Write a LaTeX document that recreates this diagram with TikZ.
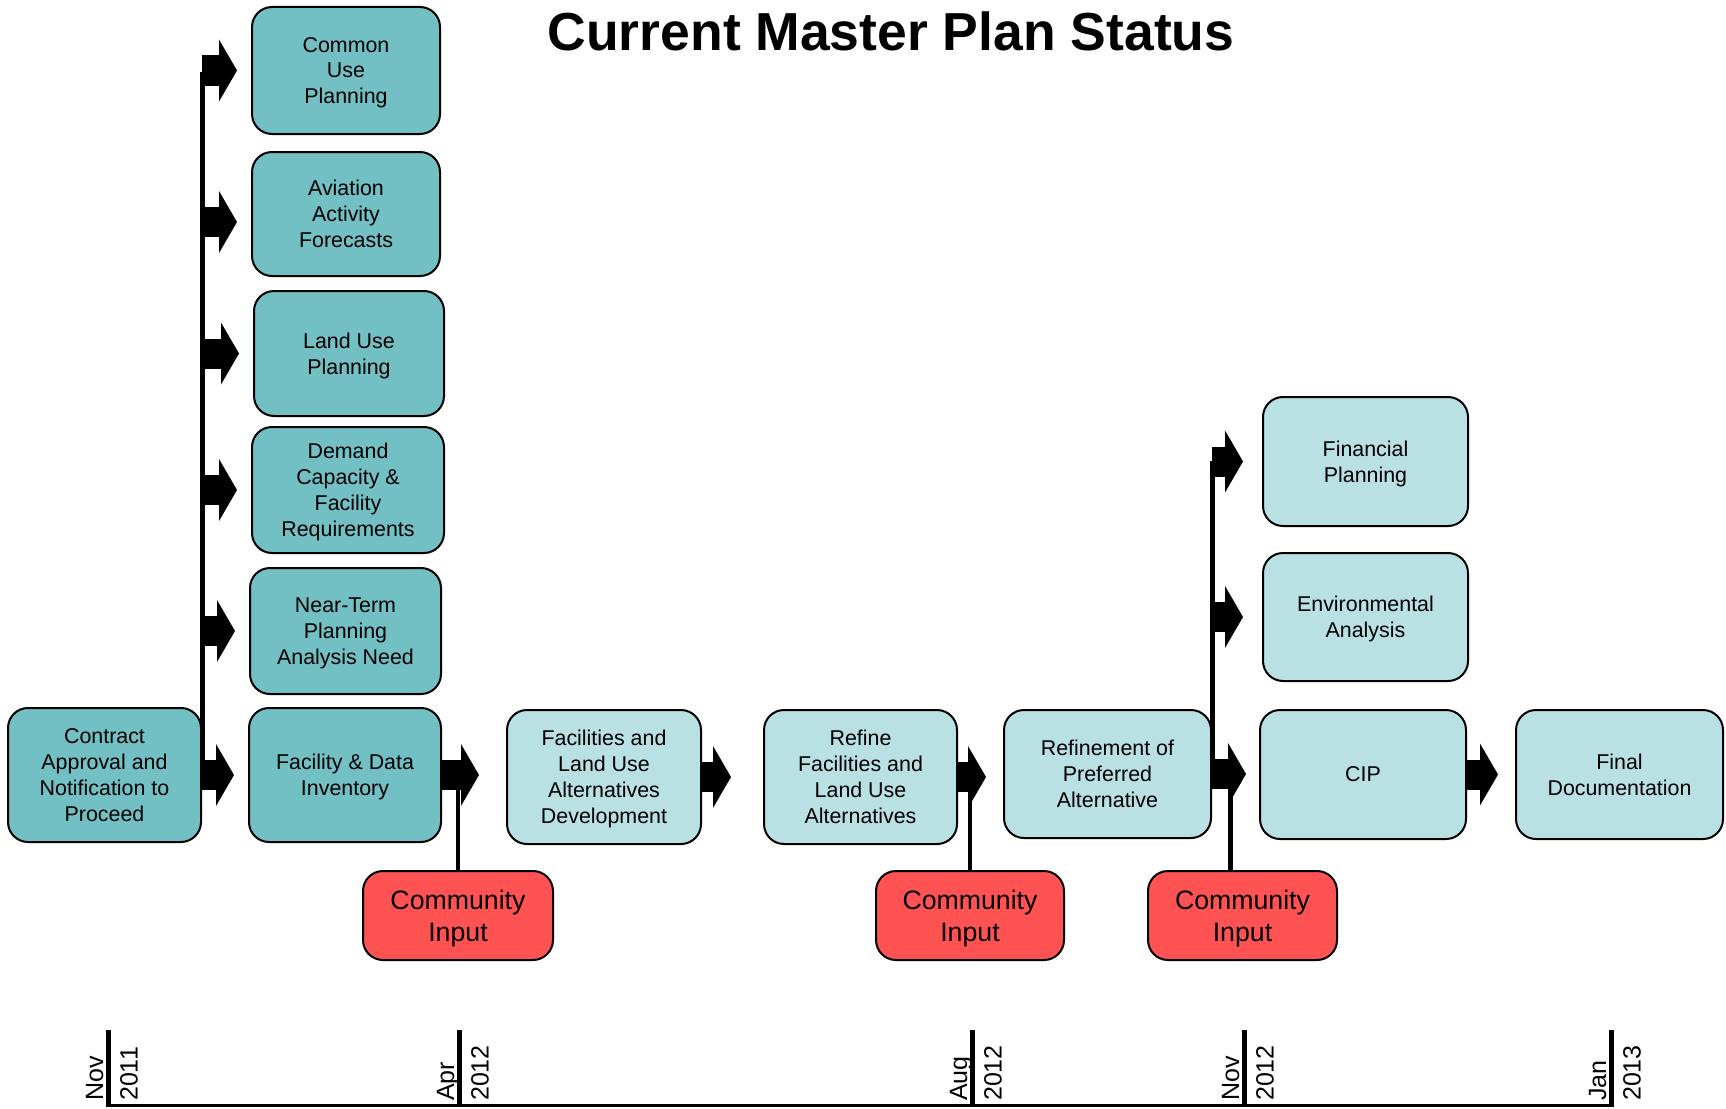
\documentclass[tikz,border=0pt]{standalone}
\usepackage{fontspec}
\setmainfont{Liberation Sans}
\usepackage{xcolor}
\usepackage{tikz}
\usetikzlibrary{arrows.meta}

\definecolor{tealscuro}{RGB}{114,191,196}
\definecolor{tealchiaro}{RGB}{185,224,227}
\definecolor{rosso}{RGB}{255,82,82}

\begin{document}
\begin{tikzpicture}[x=1pt, y=-1pt,
  fase/.style={draw, line width=2pt, rounded corners=20pt, align=center, inner sep=0pt,
    text depth=-3.5pt, font=\fontsize{21.4}{25.9}\selectfont},
  fatta/.style={fase, fill=tealscuro},
  dafare/.style={fase, fill=tealchiaro},
  pubblico/.style={fase, fill=rosso, font=\fontsize{26.7}{32.3}\selectfont},
  freccia/.style={line width=30pt, -{Triangle[length=18pt, width=62pt, line width=0pt]}},
  data/.style={rotate=90, inner sep=0pt, font=\fontsize{25}{30}\selectfont}]

  \useasboundingbox (0,0) rectangle (1726,1108);

  % 1. Titolo
  \node[anchor=base, font=\fontsize{53.5}{60}\selectfont\bfseries] (titolo) at (891,51)
    {Current Master Plan Status};

  % 2. Fasi completate (colonna di sinistra)
  \node[fatta, minimum width=193pt, minimum height=134pt] (cap) at (104.5,775)
    {Contract\\Approval and\\Notification to\\Proceed};
  \node[fatta, minimum width=188pt, minimum height=127pt] (cup) at (346,70.5) {Common\\Use\\Planning};
  \node[fatta, minimum width=188pt, minimum height=124pt] (aaf) at (346,214) {Aviation\\Activity\\Forecasts};
  \node[fatta, minimum width=190pt, minimum height=125pt] (lup) at (349,353.5) {Land Use\\Planning};
  \node[fatta, minimum width=192pt, minimum height=126pt] (dcf) at (348,490)
    {Demand\\Capacity \&\\Facility\\Requirements};
  \node[fatta, minimum width=191pt, minimum height=126pt] (ntp) at (345.5,631)
    {Near-Term\\Planning\\Analysis Need};
  \node[fatta, minimum width=192pt, minimum height=134pt] (fdi) at (345,775) {Facility \& Data\\Inventory};

  % 3. Fasi da completare
  \node[dafare, minimum width=194pt, minimum height=134pt] (flu) at (604,777)
    {Facilities and\\Land Use\\Alternatives\\Development};
  \node[dafare, minimum width=193pt, minimum height=134pt] (rfl) at (860.5,777)
    {Refine\\Facilities and\\Land Use\\Alternatives};
  \node[dafare, minimum width=207pt, minimum height=128pt] (rpa) at (1107.5,774)
    {Refinement of\\Preferred\\Alternative};
  \node[dafare, minimum width=206pt, minimum height=129pt] (cip) at (1363,774.5) {CIP};
  \node[dafare, minimum width=207pt, minimum height=129pt] (fdo) at (1619.5,774.5) {Final\\Documentation};
  \node[dafare, minimum width=205pt, minimum height=129pt] (fin) at (1365.5,461.5) {Financial\\Planning};
  \node[dafare, minimum width=205pt, minimum height=128pt] (env) at (1365.5,617) {Environmental\\Analysis};

  % 4. Incontri con il pubblico
  \node[pubblico, minimum width=190pt, minimum height=89pt] (ci1) at (458,915.5) {Community\\Input};
  \node[pubblico, minimum width=188pt, minimum height=89pt] (ci2) at (970,915.5) {Community\\Input};
  \node[pubblico, minimum width=189pt, minimum height=89pt] (ci3) at (1242.5,915.5) {Community\\Input};

  % 5. Dorsali e collegamenti verticali
  \coordinate (lsp) at (202,72);
  \coordinate (rsp) at (1212,461);
  \coordinate (aafin) at ([yshift=-8pt]aaf.west);
  \draw[line width=5pt] (lsp) -- (lsp |- fdi.west);
  \draw[line width=5pt] (rsp) -- (rsp |- cip.west);
  \draw[line width=4.5pt] (ci1.north) -- (ci1.north |- fdi.east);
  \draw[line width=4.5pt] (ci2.north) -- (ci2.north |- rfl.east);
  \draw[line width=4.5pt] ([xshift=-12pt]ci3.north) -- ([xshift=-12pt]ci3.north |- rpa.east);

  % 6. Frecce a blocco
  \foreach \n in {cup, lup, dcf, ntp}
    \draw[freccia, shorten >=14pt] (lsp |- \n.west) -- (\n.west);
  \draw[freccia, shorten >=14pt] (lsp |- aafin) -- (aafin);
  \foreach \n in {fin, env}
    \draw[freccia, shorten >=19pt] (rsp |- \n.west) -- (\n.west);
  \draw[freccia, shorten >=14pt] (cap.east) -- (cap.east -| fdi.west);
  \draw[freccia, shorten >=27pt] (fdi.east) -- (fdi.east -| flu.west);
  \draw[freccia, shorten >=32pt] (flu.east) -- (flu.east -| rfl.west);
  \draw[freccia, shorten >=17pt] (rfl.east) -- (rfl.east -| rpa.west);
  \draw[freccia, shorten >=13pt] (rpa.east) -- (rpa.east -| cip.west);
  \draw[freccia, shorten >=17pt] (cip.east) -- (cip.east -| fdo.west);

  % 7. Linea del tempo
  \draw[line width=3pt] (106,1105) -- (1614,1105);
  \foreach \x/\m/\a [count=\i] in {108/Nov/2011, 459/Apr/2012, 972/Aug/2012, 1244/Nov/2012, 1611/Jan/2013} {
    \draw[line width=5pt] (\x,1030) -- (\x,1106.5);
    \node[data, anchor=base west] (m\i) at (\x-5,1101) {\m};
    \node[data, anchor=north west] (a\i) at (\x+12,1101) {\a};
  }

\end{tikzpicture}
\end{document}
